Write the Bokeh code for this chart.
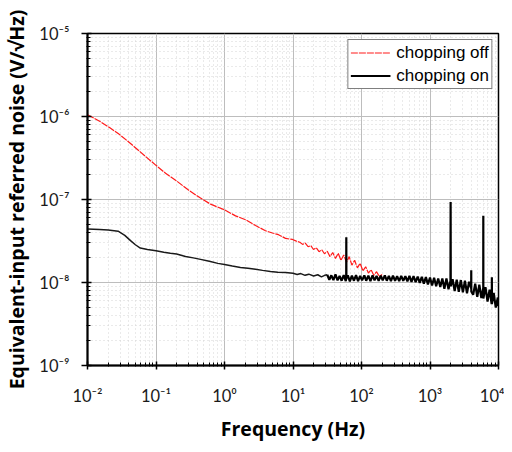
from bokeh.plotting import figure
from bokeh.models import Range1d, FixedTicker, CustomJSTickFormatter
from bokeh.embed import file_html
from bokeh.resources import INLINE

# ---- data (Hz, V/sqrt(Hz)) ----
freq_off = [0.01, 0.0155, 0.0215, 0.0284, 0.0425, 0.0703, 0.1, 0.138, 0.193, 0.245,
            0.298, 0.447, 0.625, 1.0, 1.45, 2.03, 2.84, 3.97, 5.0, 6.14,
            7.78, 9.84, 11.2, 12.6, 13.8, 15.1, 16.6, 18.2, 19.9, 21.9,
            24.0, 26.3, 28.8, 31.6, 34.7, 38.0, 41.7, 45.7, 50.1, 55.0,
            60.3, 66.1, 72.4, 79.4, 87.1, 95.5, 105, 115, 126, 138,
            151, 166, 182, 200]
noise_off = [1.05e-6, 8.65e-7, 7.25e-7, 6.2e-7, 4.73e-7, 3.3e-7, 2.58e-7, 2.07e-7, 1.71e-7, 1.47e-7,
             1.30e-7, 1.04e-7, 8.8e-8, 7.5e-8, 6.35e-8, 5.7e-8, 4.85e-8, 4.2e-8, 3.95e-8, 3.77e-8,
             3.4e-8, 3.3e-8, 3.15e-8, 3.05e-8, 2.88e-8, 2.98e-8, 2.70e-8, 2.78e-8, 2.50e-8, 2.62e-8,
             2.35e-8, 2.48e-8, 2.22e-8, 2.38e-8, 2.05e-8, 2.30e-8, 1.95e-8, 2.25e-8, 1.85e-8, 2.15e-8,
             1.75e-8, 2.05e-8, 1.62e-8, 1.85e-8, 1.50e-8, 1.70e-8, 1.38e-8, 1.55e-8, 1.30e-8, 1.42e-8,
             1.22e-8, 1.35e-8, 1.18e-8, 1.25e-8]

freq_on_low = [0.01, 0.015, 0.02, 0.028, 0.035, 0.0425, 0.05, 0.059, 0.075, 0.1,
               0.13, 0.162, 0.2, 0.27, 0.35, 0.447, 0.6, 0.8, 1.0, 1.3,
               1.71, 2.2, 2.84, 3.6, 4.68, 6.0, 7.78, 10, 11.5, 13,
               15, 17, 20, 23, 26, 29, 31.6]
noise_on_low = [4.4e-8, 4.35e-8, 4.3e-8, 4.15e-8, 3.7e-8, 3.2e-8, 2.85e-8, 2.6e-8, 2.5e-8, 2.42e-8,
                2.32e-8, 2.25e-8, 2.2e-8, 2.06e-8, 1.98e-8, 1.9e-8, 1.8e-8, 1.7e-8, 1.65e-8, 1.58e-8,
                1.52e-8, 1.48e-8, 1.44e-8, 1.40e-8, 1.36e-8, 1.33e-8, 1.32e-8, 1.29e-8, 1.25e-8, 1.28e-8,
                1.22e-8, 1.26e-8, 1.20e-8, 1.24e-8, 1.17e-8, 1.22e-8, 1.24e-8]

freq_on_high = [31.6, 33.9, 36.3, 38.9, 41.7, 44.7, 47.9, 51.3, 55.0, 58.9,
                59.8, 60.0, 60.2, 63.1, 67.6, 72.4, 77.6, 83.2, 89.1, 95.5,
                102, 110, 117, 126, 135, 145, 155, 166, 178, 191,
                204, 219, 234, 251, 269, 288, 309, 331, 355, 380,
                407, 437, 468, 501, 537, 575, 617, 661, 708, 759,
                813, 871, 933, 1000, 1072, 1148, 1230, 1318, 1413, 1514,
                1622, 1738, 1862, 1990, 2000, 2010, 2138, 2291, 2455, 2630,
                2818, 3020, 3236, 3467, 3715, 3990, 4000, 4010, 4266, 4571,
                4898, 5248, 5623, 5990, 6000, 6010, 6457, 6918, 7413, 7943,
                7990, 8000, 8010, 8511, 9120, 9772, 10000]
# in units of 1e-8 V/sqrt(Hz)
noise_on_high_e8 = [1.24, 1.08, 1.22, 1.07, 1.25, 1.06, 1.20, 1.05, 1.23, 1.04,
                    1.10, 3.50, 1.12, 1.22, 1.03, 1.21, 1.05, 1.23, 1.04, 1.20,
                    1.06, 1.22, 1.05, 1.21, 1.04, 1.22, 1.06, 1.20, 1.05, 1.21,
                    1.06, 1.22, 1.05, 1.20, 1.04, 1.21, 1.05, 1.19, 1.04, 1.20,
                    1.05, 1.19, 1.03, 1.20, 1.02, 1.19, 1.01, 1.18, 0.99, 1.17,
                    0.97, 1.16, 0.95, 1.15, 0.92, 1.14, 0.90, 1.12, 0.88, 1.12,
                    0.84, 1.12, 0.83, 1.05, 9.30, 0.90, 1.10, 0.79, 1.08, 0.77,
                    1.07, 0.76, 1.05, 0.74, 1.02, 0.85, 1.40, 0.78, 0.71, 0.97,
                    0.67, 0.94, 0.65, 0.86, 6.35, 0.64, 0.88, 0.59, 0.82, 0.55,
                    0.78, 1.16, 0.55, 0.75, 0.50, 0.66, 0.52]

x_major = [1e-2, 1e-1, 1e0, 1e1, 1e2, 1e3, 1e4]
y_major = [1e-9, 1e-8, 1e-7, 1e-6, 1e-5]
series_labels = ["chopping off", "chopping on"]

noise_on_high = [v * 1e-8 for v in noise_on_high_e8]

x_minor = [m * d for d in x_major[:-1] for m in range(2, 10)]
y_minor = [m * d for d in y_major[:-1] for m in range(2, 10)]

p = figure(width=504, height=444, x_axis_type="log", y_axis_type="log",
           x_range=Range1d(1e-2, 1e4), y_range=Range1d(1e-9, 1e-5),
           output_backend="svg", toolbar_location=None,
           min_border_left=86, min_border_right=6, min_border_top=33, min_border_bottom=75)
p.background_fill_color = "white"
p.border_fill_color = "white"
p.outline_line_color = "black"
p.outline_line_width = 1.5

p.line(freq_off, noise_off, line_color="#ff1a1a", line_width=1.2, line_dash="7 1",
       legend_label=series_labels[0])
# "chopping on": smooth low-frequency part and dense noisy part of the same series
p.line(freq_on_low, noise_on_low, line_color="#1a1a1a", line_width=1.5,
       legend_label=series_labels[1])
p.line(freq_on_high, noise_on_high, line_color="#000000", line_width=2.2,
       legend_label=series_labels[1])

fmt = CustomJSTickFormatter(code="""
const e = Math.round(Math.log10(tick));
const sup = {'-':'\u207b','0':'\u2070','1':'\u00b9','2':'\u00b2','3':'\u00b3','4':'\u2074',
             '5':'\u2075','6':'\u2076','7':'\u2077','8':'\u2078','9':'\u2079'};
return '10' + String(e).split('').map(c => sup[c]).join('');
""")

p.xaxis.ticker = FixedTicker(ticks=x_major, minor_ticks=x_minor)
p.yaxis.ticker = FixedTicker(ticks=y_major, minor_ticks=y_minor)
p.xaxis.formatter = fmt
p.yaxis.formatter = fmt

for ax in (p.xaxis, p.yaxis):
    ax.axis_line_color = "black"
    ax.axis_line_width = 2
    ax.major_tick_line_color = "black"
    ax.major_tick_line_width = 1.5
    ax.minor_tick_line_color = "black"
    ax.minor_tick_line_width = 1
    ax.minor_tick_in = 3
    ax.minor_tick_out = 1
    ax.major_label_text_font = "Lato"
    ax.major_label_text_font_size = "16.5px"
    ax.major_label_text_color = "#1a1a1a"
    ax.axis_label_text_font = "Open Sans"
    ax.axis_label_text_font_style = "bold"
    ax.axis_label_text_font_size = "19.5px"
    ax.axis_label_text_color = "black"

p.xaxis.major_tick_in = 4
p.xaxis.major_tick_out = 4
p.xaxis.major_label_standoff = 16
p.xaxis.axis_label = "Frequency (Hz)"
p.xaxis.axis_label_standoff = 6

p.yaxis.major_tick_in = 4
p.yaxis.major_tick_out = 6
p.yaxis.major_label_standoff = 12
p.yaxis.axis_label = "Equivalent-input referred noise (V/\u221aHz)"
p.yaxis.axis_label_standoff = 6

for g in (p.xgrid, p.ygrid):
    g.grid_line_color = "#bdbdbd"
    g.grid_line_width = 1
    g.minor_grid_line_color = "#d4d4d4"
    g.minor_grid_line_dash = "1 3"
    g.minor_grid_line_width = 1

lg = p.legend[0]
lg.location = "top_right"
lg.border_line_color = "black"
lg.border_line_width = 1
lg.background_fill_color = "white"
lg.background_fill_alpha = 1
lg.label_text_font = "Liberation Sans"
lg.label_text_font_size = "17px"
lg.label_text_color = "black"
lg.glyph_width = 40
lg.glyph_height = 21
lg.label_height = 21
lg.label_standoff = 6
lg.padding = 2
lg.spacing = 2
lg.margin = 6

open("out.html", "w", encoding="utf-8").write(file_html(p, INLINE))
